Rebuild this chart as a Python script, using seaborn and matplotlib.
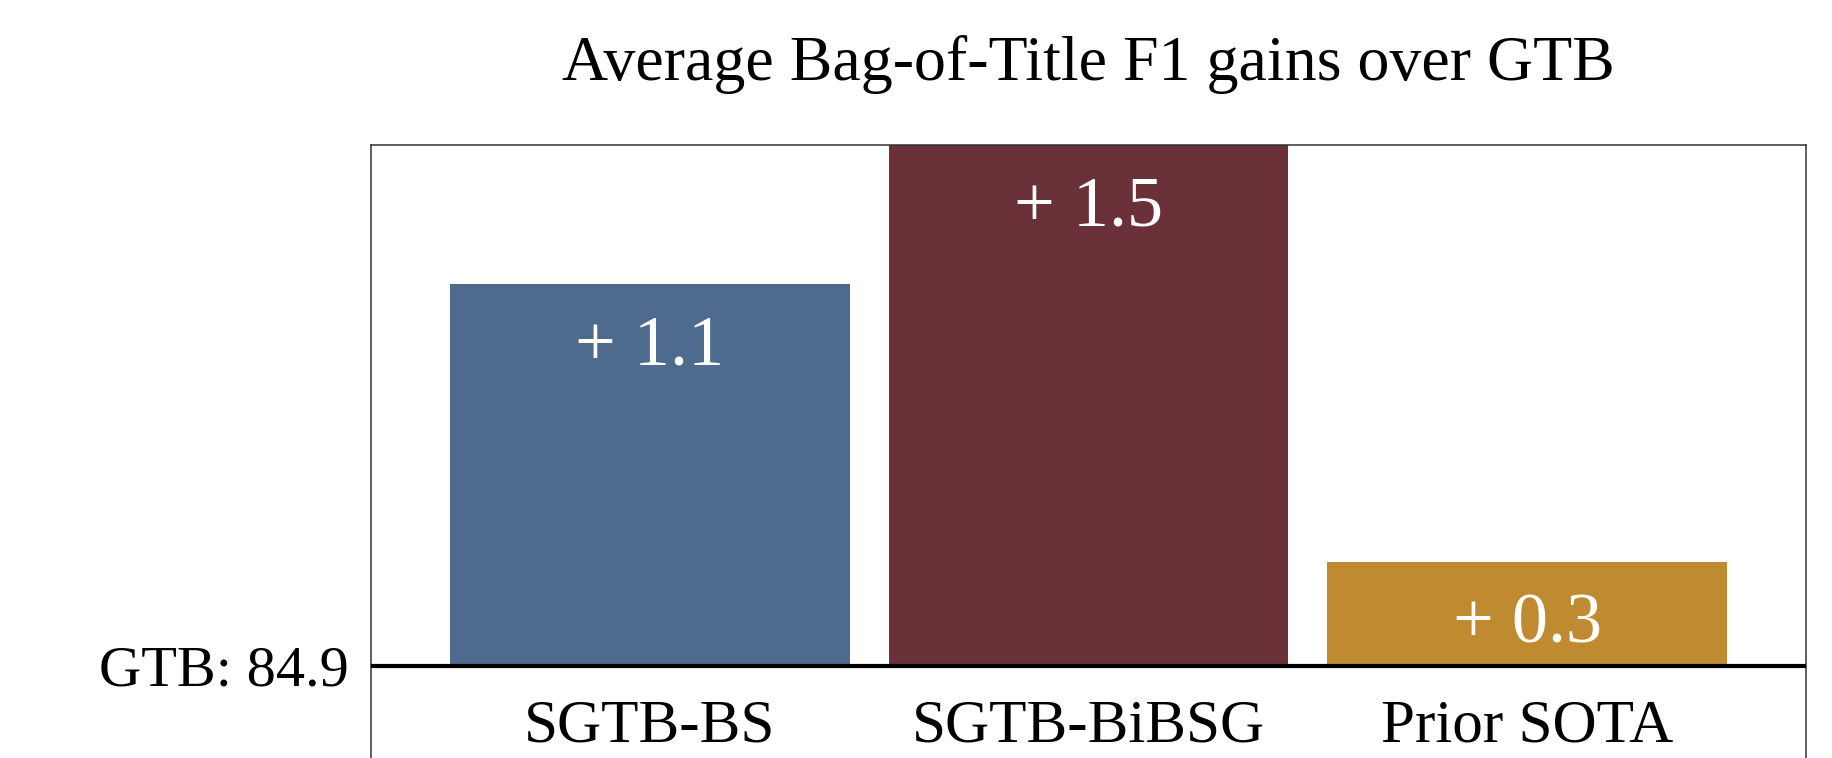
import matplotlib
matplotlib.use("Agg")
import matplotlib.pyplot as plt
import seaborn as sns
import pandas as pd

# data
methods = ["SGTB-BS", "SGTB-BiBSG", "Prior SOTA"]
gains = [1.1, 1.5, 0.3]
gain_labels = ["+ 1.1", "+ 1.5", "+ 0.3"]
bar_colors = ["#4e6a8d", "#6a3238", "#bf8a30"]
baseline_label = "GTB: 84.9"
title = "Average Bag-of-Title F1 gains over GTB"

sns.set_style("white")
plt.rcParams["font.family"] = ["Liberation Serif", "DejaVu Serif"]
plt.rcParams["text.color"] = "black"
plt.rcParams["ytick.color"] = "black"

df = pd.DataFrame({"method": methods, "gain": gains})

fig = plt.figure(figsize=(18.33, 7.58), dpi=100)
ax = fig.add_axes([371 / 1833, 1 - 770 / 758, (1806 - 371) / 1833, (770 - 145) / 758])

sns.barplot(data=df, x="method", y="gain", hue="method", palette=bar_colors,
            legend=False, width=0.912, saturation=1, edgecolor="none", ax=ax)

ax.set_xlim(-0.636, 2.636)
ax.set_ylim(-0.30, 1.5)
ax.axhline(0, color="black", lw=3, zorder=5)

# gain labels inside the bars
for patch, lab in zip(ax.patches, gain_labels):
    xc = patch.get_x() + patch.get_width() / 2
    ax.annotate(lab, (xc, patch.get_height()), xytext=(0, -81), textcoords="offset pixels",
                ha="center", va="baseline", color="white", fontsize=52)

# category names below the baseline
for i, m in enumerate(methods):
    ax.text(i, -0.219, m, ha="center", va="baseline", fontsize=44, color="black")

ax.set_xticks([])
ax.set_yticks([0])
ax.set_yticklabels([baseline_label], fontsize=42, color="black")
ax.tick_params(axis="y", length=0, pad=16)
ax.set_xlabel("")
ax.set_ylabel("")
ax.set_title(title, fontsize=46, pad=47, color="black")

for s in ax.spines.values():
    s.set_visible(True)
    s.set_color("#333333")
    s.set_linewidth(1.1)

fig.savefig("out.png", dpi=100)
